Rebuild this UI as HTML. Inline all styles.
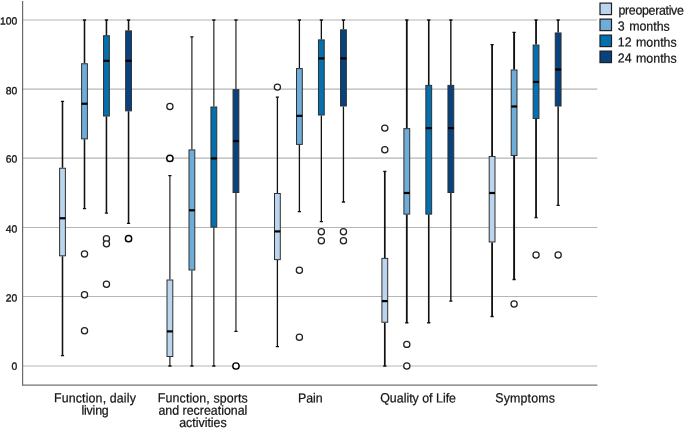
<!DOCTYPE html>
<html><head><meta charset="utf-8"><title>Boxplot</title>
<style>html,body{margin:0;padding:0;background:#fff}svg{display:block;will-change:transform}text{text-rendering:geometricPrecision;font-family:"Liberation Sans",sans-serif;fill:#141414;stroke:#141414;stroke-width:0.22px}text.t{stroke-width:0.34px}</style>
</head><body>
<svg width="685" height="429" viewBox="0 0 685 429">
<rect width="685" height="429" fill="#fff"/>
<g stroke="#b6b6b6" stroke-width="1.15">
<line x1="23" x2="597.3" y1="365.95" y2="365.95"/>
<line x1="23" x2="597.3" y1="296.50" y2="296.50"/>
<line x1="23" x2="597.3" y1="227.50" y2="227.50"/>
<line x1="23" x2="597.3" y1="158.05" y2="158.05"/>
<line x1="23" x2="597.3" y1="89.10" y2="89.10"/>
<line x1="23" x2="597.3" y1="20.00" y2="20.00"/>
</g>
<path d="M22.6 1 V385.4" stroke="#6a6a6a" stroke-width="1.2" fill="none"/>
<path d="M22 385.1 H597.4" stroke="#747474" stroke-width="1.25" fill="none"/>
<g font-size="10.35" text-anchor="end">
<text class="t" transform="translate(17.3 369.85) rotate(0.05)">0</text>
<text class="t" transform="translate(17.3 301.55) rotate(0.05)">20</text>
<text class="t" transform="translate(17.3 232.55) rotate(0.05)">40</text>
<text class="t" transform="translate(17.3 162.50) rotate(0.05)">60</text>
<text class="t" transform="translate(17.3 94.20) rotate(0.05)">80</text>
<text class="t" transform="translate(17.3 24.55) rotate(0.05)">100</text>
</g>
<g>
<path d="M62.50 101.31 V167.74 M62.50 256.32 V355.62" stroke="#111" stroke-width="1.55" fill="none"/>
<path d="M60.90 101.31 h3.2 M60.90 355.62 h3.2" stroke="#111" stroke-width="1.3" fill="none"/>
<rect x="59.60" y="168.24" width="5.8" height="87.58" fill="#BBD5EE" stroke="#303030" stroke-width="1"/>
<rect x="59.60" y="217.16" width="5.8" height="2.2" fill="#000"/>
</g>
<g>
<path d="M84.50 20.00 V63.25 M84.50 139.37 V208.57" stroke="#111" stroke-width="1.55" fill="none"/>
<path d="M82.90 20.00 h3.2 M82.90 208.57 h3.2" stroke="#111" stroke-width="1.3" fill="none"/>
<rect x="81.60" y="63.75" width="5.8" height="75.12" fill="#6EADDA" stroke="#303030" stroke-width="1"/>
<rect x="81.60" y="102.63" width="5.8" height="2.2" fill="#000"/>
<circle cx="84.50" cy="253.90" r="3.1" fill="#fff" stroke="#222" stroke-width="1.25"/>
<circle cx="84.50" cy="294.72" r="3.1" fill="#fff" stroke="#222" stroke-width="1.25"/>
<circle cx="84.50" cy="330.71" r="3.1" fill="#fff" stroke="#222" stroke-width="1.25"/>
</g>
<g>
<path d="M106.45 20.00 V35.22 M106.45 116.53 V213.07" stroke="#111" stroke-width="1.55" fill="none"/>
<path d="M104.85 20.00 h3.2 M104.85 213.07 h3.2" stroke="#111" stroke-width="1.3" fill="none"/>
<rect x="103.55" y="35.72" width="5.8" height="80.31" fill="#0570B0" stroke="#303030" stroke-width="1"/>
<rect x="103.55" y="59.73" width="5.8" height="2.2" fill="#000"/>
<circle cx="106.45" cy="238.67" r="3.1" fill="#fff" stroke="#222" stroke-width="1.25"/>
<circle cx="106.45" cy="243.86" r="3.1" fill="#fff" stroke="#222" stroke-width="1.25"/>
<circle cx="106.45" cy="284.34" r="3.1" fill="#fff" stroke="#222" stroke-width="1.25"/>
</g>
<g>
<path d="M128.55 20.00 V30.38 M128.55 111.34 V223.45" stroke="#111" stroke-width="1.55" fill="none"/>
<path d="M126.95 20.00 h3.2 M126.95 223.45 h3.2" stroke="#111" stroke-width="1.3" fill="none"/>
<rect x="125.65" y="30.88" width="5.8" height="79.96" fill="#08427F" stroke="#303030" stroke-width="1"/>
<rect x="125.65" y="59.73" width="5.8" height="2.2" fill="#000"/>
<circle cx="128.55" cy="238.67" r="3.15" fill="#fff" stroke="#000" stroke-width="1.42"/>
</g>
<g>
<path d="M169.90 175.70 V279.50 M169.90 357.00 V366.00" stroke="#111" stroke-width="1.1" fill="none"/>
<path d="M168.30 175.70 h3.2 M168.30 366.00 h3.2" stroke="#111" stroke-width="1.3" fill="none"/>
<rect x="167.00" y="280.00" width="5.8" height="76.50" fill="#BBD5EE" stroke="#303030" stroke-width="1"/>
<rect x="167.00" y="330.30" width="5.8" height="2.2" fill="#000"/>
<circle cx="169.90" cy="106.50" r="3.1" fill="#fff" stroke="#222" stroke-width="1.25"/>
<circle cx="169.90" cy="158.40" r="3.15" fill="#fff" stroke="#000" stroke-width="1.42"/>
</g>
<g>
<path d="M191.90 36.95 V149.40 M191.90 270.50 V366.00" stroke="#111" stroke-width="1.1" fill="none"/>
<path d="M190.30 36.95 h3.2 M190.30 366.00 h3.2" stroke="#111" stroke-width="1.3" fill="none"/>
<rect x="189.00" y="149.90" width="5.8" height="120.10" fill="#6EADDA" stroke="#303030" stroke-width="1"/>
<rect x="189.00" y="209.20" width="5.8" height="2.2" fill="#000"/>
</g>
<g>
<path d="M213.85 20.00 V106.50 M213.85 227.60 V366.00" stroke="#111" stroke-width="1.1" fill="none"/>
<path d="M212.25 20.00 h3.2 M212.25 366.00 h3.2" stroke="#111" stroke-width="1.3" fill="none"/>
<rect x="210.95" y="107.00" width="5.8" height="120.10" fill="#0570B0" stroke="#303030" stroke-width="1"/>
<rect x="210.95" y="157.30" width="5.8" height="2.2" fill="#000"/>
</g>
<g>
<path d="M235.95 20.00 V89.20 M235.95 193.00 V331.40" stroke="#111" stroke-width="1.1" fill="none"/>
<path d="M234.35 20.00 h3.2 M234.35 331.40 h3.2" stroke="#111" stroke-width="1.3" fill="none"/>
<rect x="233.05" y="89.70" width="5.8" height="102.80" fill="#08427F" stroke="#303030" stroke-width="1"/>
<rect x="233.05" y="140.00" width="5.8" height="2.2" fill="#000"/>
<circle cx="235.95" cy="366.00" r="3.15" fill="#fff" stroke="#000" stroke-width="1.42"/>
</g>
<g>
<path d="M277.40 97.16 V193.00 M277.40 260.12 V346.62" stroke="#111" stroke-width="1.3" fill="none"/>
<path d="M275.80 97.16 h3.2 M275.80 346.62 h3.2" stroke="#111" stroke-width="1.3" fill="none"/>
<rect x="274.50" y="193.50" width="5.8" height="66.12" fill="#BBD5EE" stroke="#303030" stroke-width="1"/>
<rect x="274.50" y="230.31" width="5.8" height="2.2" fill="#000"/>
<circle cx="277.40" cy="87.12" r="3.1" fill="#fff" stroke="#222" stroke-width="1.25"/>
</g>
<g>
<path d="M299.40 20.00 V68.09 M299.40 144.91 V211.68" stroke="#111" stroke-width="1.3" fill="none"/>
<path d="M297.80 20.00 h3.2 M297.80 211.68 h3.2" stroke="#111" stroke-width="1.3" fill="none"/>
<rect x="296.50" y="68.59" width="5.8" height="75.81" fill="#6EADDA" stroke="#303030" stroke-width="1"/>
<rect x="296.50" y="114.74" width="5.8" height="2.2" fill="#000"/>
<circle cx="299.40" cy="270.16" r="3.1" fill="#fff" stroke="#222" stroke-width="1.25"/>
<circle cx="299.40" cy="337.28" r="3.1" fill="#fff" stroke="#222" stroke-width="1.25"/>
</g>
<g>
<path d="M321.35 20.00 V39.38 M321.35 115.50 V221.72" stroke="#111" stroke-width="1.3" fill="none"/>
<path d="M319.75 20.00 h3.2 M319.75 221.72 h3.2" stroke="#111" stroke-width="1.3" fill="none"/>
<rect x="318.45" y="39.88" width="5.8" height="75.12" fill="#0570B0" stroke="#303030" stroke-width="1"/>
<rect x="318.45" y="57.31" width="5.8" height="2.2" fill="#000"/>
<circle cx="321.35" cy="231.75" r="3.1" fill="#fff" stroke="#222" stroke-width="1.25"/>
<circle cx="321.35" cy="240.75" r="3.1" fill="#fff" stroke="#222" stroke-width="1.25"/>
</g>
<g>
<path d="M343.45 20.00 V29.34 M343.45 106.50 V202.00" stroke="#111" stroke-width="1.3" fill="none"/>
<path d="M341.85 20.00 h3.2 M341.85 202.00 h3.2" stroke="#111" stroke-width="1.3" fill="none"/>
<rect x="340.55" y="29.84" width="5.8" height="76.16" fill="#08427F" stroke="#303030" stroke-width="1"/>
<rect x="340.55" y="57.31" width="5.8" height="2.2" fill="#000"/>
<circle cx="343.45" cy="231.75" r="3.1" fill="#fff" stroke="#222" stroke-width="1.25"/>
<circle cx="343.45" cy="240.75" r="3.1" fill="#fff" stroke="#222" stroke-width="1.25"/>
</g>
<g>
<path d="M384.80 171.38 V257.88 M384.80 322.75 V366.00" stroke="#111" stroke-width="1.7" fill="none"/>
<path d="M383.20 171.38 h3.2 M383.20 366.00 h3.2" stroke="#111" stroke-width="1.3" fill="none"/>
<rect x="381.90" y="258.38" width="5.8" height="63.88" fill="#BBD5EE" stroke="#303030" stroke-width="1"/>
<rect x="381.90" y="300.02" width="5.8" height="2.2" fill="#000"/>
<circle cx="384.80" cy="128.12" r="3.1" fill="#fff" stroke="#222" stroke-width="1.25"/>
<circle cx="384.80" cy="149.75" r="3.1" fill="#fff" stroke="#222" stroke-width="1.25"/>
</g>
<g>
<path d="M406.80 20.00 V128.12 M406.80 214.62 V322.75" stroke="#111" stroke-width="1.8" fill="none"/>
<path d="M405.20 20.00 h3.2 M405.20 322.75 h3.2" stroke="#111" stroke-width="1.3" fill="none"/>
<rect x="403.90" y="128.62" width="5.8" height="85.50" fill="#6EADDA" stroke="#303030" stroke-width="1"/>
<rect x="403.90" y="191.90" width="5.8" height="2.2" fill="#000"/>
<circle cx="406.80" cy="344.38" r="3.1" fill="#fff" stroke="#222" stroke-width="1.25"/>
<circle cx="406.80" cy="366.00" r="3.1" fill="#fff" stroke="#222" stroke-width="1.25"/>
</g>
<g>
<path d="M428.75 20.00 V84.88 M428.75 214.62 V322.75" stroke="#111" stroke-width="1.6" fill="none"/>
<path d="M427.15 20.00 h3.2 M427.15 322.75 h3.2" stroke="#111" stroke-width="1.3" fill="none"/>
<rect x="425.85" y="85.38" width="5.8" height="128.75" fill="#0570B0" stroke="#303030" stroke-width="1"/>
<rect x="425.85" y="127.03" width="5.8" height="2.2" fill="#000"/>
</g>
<g>
<path d="M450.85 20.00 V84.88 M450.85 193.00 V301.12" stroke="#111" stroke-width="1.4" fill="none"/>
<path d="M449.25 20.00 h3.2 M449.25 301.12 h3.2" stroke="#111" stroke-width="1.3" fill="none"/>
<rect x="447.95" y="85.38" width="5.8" height="107.12" fill="#08427F" stroke="#303030" stroke-width="1"/>
<rect x="447.95" y="127.03" width="5.8" height="2.2" fill="#000"/>
</g>
<g>
<path d="M492.10 44.57 V155.98 M492.10 242.48 V316.52" stroke="#111" stroke-width="1.8" fill="none"/>
<path d="M490.50 44.57 h3.2 M490.50 316.52 h3.2" stroke="#111" stroke-width="1.3" fill="none"/>
<rect x="489.20" y="156.48" width="5.8" height="85.50" fill="#BBD5EE" stroke="#303030" stroke-width="1"/>
<rect x="489.20" y="191.90" width="5.8" height="2.2" fill="#000"/>
</g>
<g>
<path d="M514.10 32.46 V69.48 M514.10 155.98 V279.50" stroke="#111" stroke-width="1.9" fill="none"/>
<path d="M512.50 32.46 h3.2 M512.50 279.50 h3.2" stroke="#111" stroke-width="1.3" fill="none"/>
<rect x="511.20" y="69.98" width="5.8" height="85.50" fill="#6EADDA" stroke="#303030" stroke-width="1"/>
<rect x="511.20" y="105.40" width="5.8" height="2.2" fill="#000"/>
<circle cx="514.10" cy="304.07" r="3.1" fill="#fff" stroke="#222" stroke-width="1.25"/>
</g>
<g>
<path d="M536.05 20.00 V44.57 M536.05 118.96 V217.57" stroke="#111" stroke-width="1.8" fill="none"/>
<path d="M534.45 20.00 h3.2 M534.45 217.57 h3.2" stroke="#111" stroke-width="1.3" fill="none"/>
<rect x="533.15" y="45.07" width="5.8" height="73.39" fill="#0570B0" stroke="#303030" stroke-width="1"/>
<rect x="533.15" y="80.83" width="5.8" height="2.2" fill="#000"/>
<circle cx="536.05" cy="254.93" r="3.1" fill="#fff" stroke="#222" stroke-width="1.25"/>
</g>
<g>
<path d="M558.15 20.00 V32.46 M558.15 106.50 V205.46" stroke="#111" stroke-width="1.5" fill="none"/>
<path d="M556.55 20.00 h3.2 M556.55 205.46 h3.2" stroke="#111" stroke-width="1.3" fill="none"/>
<rect x="555.25" y="32.96" width="5.8" height="73.04" fill="#08427F" stroke="#303030" stroke-width="1"/>
<rect x="555.25" y="68.38" width="5.8" height="2.2" fill="#000"/>
<circle cx="558.15" cy="254.93" r="3.1" fill="#fff" stroke="#222" stroke-width="1.25"/>
</g>
<g font-size="12.4" text-anchor="middle">
<text transform="translate(95.0 402.4) scale(1 1.06) rotate(0.05)" letter-spacing="0.14">Function, daily</text>
<text transform="translate(95.0 414.8) scale(1 1.06) rotate(0.05)" letter-spacing="-0.2">living</text>
<text transform="translate(202.9 402.4) scale(1 1.06) rotate(0.05)" letter-spacing="0.12">Function, sports</text>
<text transform="translate(202.9 414.8) scale(1 1.06) rotate(0.05)">and recreational</text>
<text transform="translate(202.9 427.1) scale(1 1.06) rotate(0.05)">activities</text>
<text transform="translate(310.3 402.4) scale(1 1.06) rotate(0.05)">Pain</text>
<text transform="translate(418.1 402.4) scale(1 1.06) rotate(0.05)">Quality of Life</text>
<text transform="translate(525.2 402.4) scale(1 1.06) rotate(0.05)" letter-spacing="0.15">Symptoms</text>
</g>
<rect x="600" y="3.1" width="11.5" height="11.5" fill="#BBD5EE" stroke="#1f1f1f" stroke-width="1.2"/>
<rect x="600" y="19.1" width="11.5" height="11.5" fill="#6EADDA" stroke="#1f1f1f" stroke-width="1.2"/>
<rect x="600" y="35.1" width="11.5" height="11.5" fill="#0570B0" stroke="#1f1f1f" stroke-width="1.2"/>
<rect x="600" y="51.1" width="11.5" height="11.5" fill="#08427F" stroke="#1f1f1f" stroke-width="1.2"/>
<g font-size="12.4">
<text transform="translate(618.4 14.6) scale(1.0 1.06) rotate(0.05)" textLength="65.5" lengthAdjust="spacing">preoperative</text>
<text transform="translate(617.8 30.6) scale(1.0 1.06) rotate(0.05)" word-spacing="1">3 months</text>
<text transform="translate(617.8 46.6) scale(1.0 1.06) rotate(0.05)" word-spacing="1">12 months</text>
<text transform="translate(617.8 62.6) scale(1.0 1.06) rotate(0.05)" word-spacing="1">24 months</text>
</g>
</svg>
</body></html>
